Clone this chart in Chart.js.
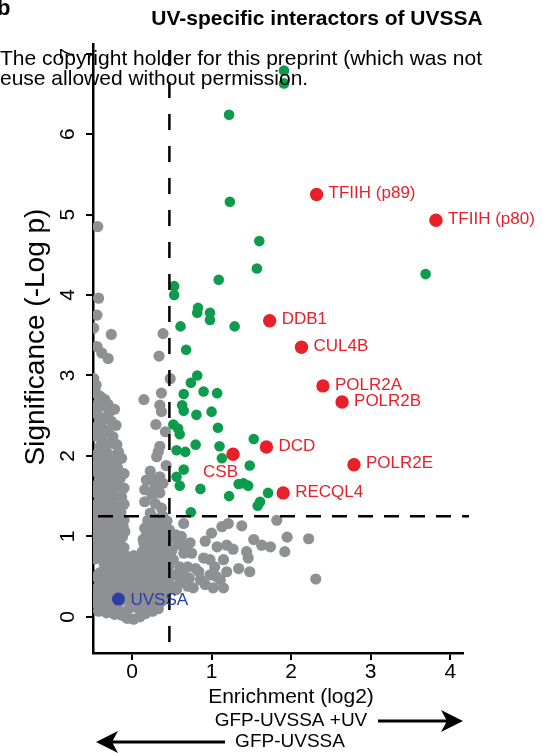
<!DOCTYPE html>
<html>
<head>
<meta charset="utf-8">
<script src="https://cdn.jsdelivr.net/npm/chart.js@4.4.1/dist/chart.umd.min.js"></script>
<style>
  html, body { margin: 0; padding: 0; background: #fff; }
  #wrap { position: relative; width: 556px; height: 753px; }
</style>
</head>
<body>
<div id="wrap"><canvas id="volcano" width="556" height="753"></canvas></div>
<script>
// axis ticks and cut-offs
const xTicks = [0, 1, 2, 3, 4];
const yTicks = [0, 1, 2, 3, 4, 5, 6, 7];
const enrichCut = 0.47;
const signifCut = 1.25;

// labelled UV-specific hits (red)
const hitNames = ['TFIIH (p89)', 'TFIIH (p80)', 'DDB1', 'CUL4B', 'POLR2A', 'POLR2B', 'DCD', 'CSB', 'POLR2E', 'RECQL4'];
const hitX = [2.32, 3.82, 1.73, 2.13, 2.40, 2.64, 1.69, 1.27, 2.79, 1.90];
const hitY = [5.25, 4.93, 3.68, 3.35, 2.87, 2.67, 2.11, 2.02, 1.89, 1.54];

// bait
const baitName = 'UVSSA';
const baitX = [-0.17];
const baitY = [0.22];

// other significant interactors (green)
const sigPts = [
  [1.91, 6.79], [1.91, 6.63], [1.22, 6.24], [1.23, 5.16], [1.60, 4.67], [1.57, 4.33], [1.09, 4.19],
  [3.69, 4.26], [0.53, 4.11], [0.53, 4.00], [0.83, 3.84], [0.82, 3.78], [0.98, 3.78], [0.98, 3.69],
  [1.29, 3.61], [0.61, 3.61], [0.68, 3.32], [0.82, 3.00], [0.74, 2.91], [0.65, 2.77], [0.90, 2.80],
  [1.07, 2.78], [0.63, 2.63], [0.65, 2.56], [0.81, 2.51], [1.00, 2.55], [0.52, 2.39], [0.58, 2.34],
  [0.60, 2.27], [1.08, 2.35], [1.53, 2.21], [0.56, 2.07], [0.67, 2.05], [0.80, 2.14], [1.10, 2.12],
  [1.13, 1.97], [0.65, 1.83], [0.56, 1.74], [0.60, 1.63], [0.86, 1.59], [1.48, 1.88], [1.34, 1.65],
  [1.40, 1.66], [1.46, 1.63], [1.22, 1.50], [1.71, 1.54], [1.61, 1.43], [1.58, 1.38], [0.74, 1.30]
];

// background proteins (grey)
const bgPts = [
  // upper scatter near the axis
  [-0.43, 4.85], [-0.42, 3.96], [-0.44, 3.75], [-0.48, 3.59], [-0.26, 3.51], [-0.44, 3.36], [-0.38, 3.28],
  [-0.30, 3.21], [-0.48, 2.96], [-0.45, 2.88], [-0.38, 2.72],
  // just left of the enrichment cut
  [0.39, 3.52], [0.34, 3.24], [0.48, 2.96], [0.37, 2.78], [0.15, 2.70], [0.35, 2.63], [0.37, 2.55],
  [0.30, 2.39], [0.35, 2.12], [0.33, 2.05], [0.31, 1.99], [0.42, 2.30], [0.43, 1.88],
  [0.23, 1.81], [0.18, 1.70], [0.25, 1.70], [0.35, 1.74], [0.39, 1.66], [0.29, 1.62], [0.16, 1.58],
  [0.25, 1.52], [0.35, 1.54], [0.16, 1.43], [0.29, 1.41], [0.37, 1.35], [0.23, 1.29], [0.39, 1.25],
  [0.25, 1.21], [0.33, 1.17],
  // column along the y axis
  [-0.40, 2.74], [-0.34, 2.70], [-0.28, 2.55], [-0.32, 2.49], [-0.40, 2.43], [-0.26, 2.43], [-0.34, 2.32],
  [-0.24, 2.24], [-0.28, 2.16], [-0.19, 2.14], [-0.40, 2.12], [-0.32, 2.05], [-0.17, 2.05], [-0.13, 1.97],
  [-0.36, 1.97], [-0.24, 1.91], [-0.34, 1.85], [-0.40, 1.74], [-0.24, 1.74], [-0.15, 1.72], [-0.32, 1.66],
  [-0.19, 1.62], [-0.36, 1.58], [-0.26, 1.52], [-0.13, 1.49], [-0.40, 1.45], [-0.30, 1.41], [-0.19, 1.37],
  [-0.34, 1.31], [-0.24, 1.29], [-0.40, 1.20], [-0.15, 1.20], [-0.28, 1.16], [-0.11, 1.12],
  [-0.46, 2.60], [-0.47, 2.35], [-0.46, 2.25], [-0.46, 1.90], [-0.46, 1.55], [-0.46, 1.30],
  [-0.45, 2.78], [-0.42, 2.66], [-0.36, 2.62], [-0.30, 2.64], [-0.22, 2.58], [-0.44, 2.52], [-0.36, 2.45],
  [-0.20, 2.38], [-0.30, 2.30], [-0.42, 2.30], [-0.38, 2.20], [-0.22, 2.15], [-0.44, 2.02], [-0.26, 2.00],
  [-0.36, 1.88], [-0.18, 1.85], [-0.28, 1.80], [-0.44, 1.80], [-0.10, 1.78], [-0.36, 1.72], [-0.28, 1.62],
  [-0.44, 1.64], [-0.10, 1.60], [-0.36, 1.50], [-0.20, 1.50], [-0.44, 1.40], [-0.10, 1.40], [-0.26, 1.40],
  [-0.36, 1.34], [-0.14, 1.30], [-0.44, 1.25], [-0.32, 1.24], [-0.22, 1.20], [-0.10, 1.20],
  // right-hand tail
  [0.65, 1.16], [0.92, 0.94], [1.00, 1.04], [1.13, 1.12], [1.21, 1.16], [1.38, 1.13], [1.82, 1.20],
  [1.95, 0.99], [2.22, 0.97], [1.92, 0.81], [2.31, 0.47], [1.53, 0.96], [1.63, 0.89], [1.74, 0.87],
  [1.44, 0.81], [1.46, 0.73], [1.34, 0.60], [1.48, 0.56], [1.19, 0.89], [1.27, 0.84], [1.07, 0.87],
  [0.73, 0.92], [0.75, 0.79], [0.65, 0.79], [0.90, 0.73], [0.98, 0.71], [1.04, 0.62], [1.15, 0.71],
  [1.19, 0.56], [1.11, 0.46], [1.02, 0.36], [1.15, 0.36], [0.86, 0.46], [0.92, 0.40], [0.77, 0.36],
  [0.52, 0.71], [0.60, 0.62], [0.56, 0.52], [0.65, 0.44], [0.56, 0.34], [0.42, 0.25],
  [0.70, 0.62], [0.80, 0.60], [0.72, 0.48], [0.84, 0.56], [0.64, 0.55], [0.98, 0.52], [1.06, 0.50],
  [0.60, 0.42], [0.70, 0.38], [0.48, 0.40], [0.50, 0.52], [0.46, 0.62],
  [0.50, 0.82], [0.58, 0.90], [0.55, 1.02], [0.47, 1.08], [0.62, 1.00], [0.68, 0.88],
  // dense core
  [-0.06, -0.02], [0.02, -0.03], [0.10, 0.00],
  [-0.42, 0.07], [-0.32, 0.05], [-0.22, 0.03], [-0.13, 0.02], [0.17, 0.04], [0.26, 0.07],
  [-0.39, 0.10], [-0.17, 0.10], [0.12, 0.10], [0.24, 0.10], [0.33, 0.10],
  [-0.44, 0.16], [-0.35, 0.14], [-0.26, 0.12], [-0.04, 0.10], [0.07, 0.11], [0.19, 0.14], [0.30, 0.15], [0.37, 0.19],
  [-0.40, 0.21], [-0.31, 0.21], [-0.22, 0.21], [-0.12, 0.21], [-0.03, 0.21], [0.07, 0.21], [0.17, 0.21], [0.27, 0.21], [0.40, 0.21],
  [-0.45, 0.27], [-0.36, 0.25], [-0.27, 0.28], [-0.18, 0.30], [-0.08, 0.26], [0.02, 0.24], [0.12, 0.27], [0.22, 0.25], [0.32, 0.29],
  [-0.46, 0.33], [-0.37, 0.33], [-0.26, 0.33], [-0.15, 0.33], [-0.05, 0.33], [0.05, 0.33], [0.15, 0.33], [0.25, 0.33], [0.35, 0.33], [0.45, 0.33],
  [-0.42, 0.38], [-0.31, 0.37], [-0.21, 0.40], [-0.10, 0.36], [0.00, 0.39], [0.10, 0.37], [0.20, 0.40], [0.30, 0.38], [0.40, 0.36],
  [-0.40, 0.44], [-0.30, 0.44], [-0.19, 0.44], [-0.09, 0.44], [0.02, 0.44], [0.12, 0.44], [0.22, 0.44], [0.32, 0.44], [0.42, 0.44],
  [-0.45, 0.50], [-0.35, 0.49], [-0.25, 0.51], [-0.14, 0.48], [-0.04, 0.52], [0.06, 0.49], [0.16, 0.51], [0.27, 0.48], [0.37, 0.52],
  [-0.40, 0.55], [-0.30, 0.55], [-0.19, 0.55], [-0.09, 0.55], [0.01, 0.55], [0.11, 0.55], [0.21, 0.55], [0.32, 0.55], [0.42, 0.55],
  [-0.30, 0.61], [-0.20, 0.59], [-0.10, 0.62], [0.00, 0.60], [0.10, 0.61], [0.21, 0.63], [0.32, 0.59], [0.41, 0.63],
  [-0.35, 0.66], [-0.25, 0.66], [-0.15, 0.66], [-0.05, 0.66], [0.05, 0.66], [0.15, 0.66], [0.26, 0.66], [0.36, 0.66], [0.46, 0.66],
  [-0.46, 0.72], [-0.24, 0.71], [-0.14, 0.73], [-0.04, 0.70], [0.07, 0.72], [0.18, 0.69], [0.28, 0.72], [0.38, 0.70],
  [-0.40, 0.76], [-0.28, 0.76], [-0.18, 0.76], [-0.08, 0.76], [0.02, 0.76], [0.20, 0.76], [0.30, 0.76], [0.40, 0.76],
  [-0.43, 0.82], [-0.32, 0.80], [-0.21, 0.83], [-0.12, 0.79], [0.13, 0.81], [0.24, 0.79], [0.34, 0.82], [0.44, 0.80],
  [-0.40, 0.86], [-0.30, 0.86], [-0.20, 0.86], [-0.10, 0.86], [0.20, 0.86], [0.32, 0.86], [0.45, 0.86],
  [-0.45, 0.92], [-0.35, 0.90], [-0.25, 0.93], [-0.15, 0.89], [0.15, 0.91], [0.27, 0.93], [0.40, 0.90],
  [-0.46, 0.96], [-0.37, 0.96], [-0.25, 0.96], [-0.16, 0.96], [0.14, 0.96], [0.22, 0.96], [0.35, 0.96], [0.46, 0.96],
  [-0.42, 1.02], [-0.30, 1.00], [-0.20, 1.03], [-0.12, 0.99], [0.18, 1.01], [0.30, 1.02], [0.42, 0.99],
  [-0.40, 1.06], [-0.30, 1.06], [-0.20, 1.06], [-0.09, 1.06], [0.21, 1.06], [0.32, 1.06], [0.44, 1.06],
  [-0.46, 1.10], [-0.36, 1.09], [-0.25, 1.11], [-0.14, 1.08], [0.16, 1.10], [0.26, 1.12], [0.37, 1.08],
  [-0.45, 1.16], [-0.35, 1.16], [-0.23, 1.16], [-0.15, 1.16], [0.20, 1.16], [0.28, 1.16], [0.40, 1.16],
  [-0.41, 1.22], [-0.30, 1.21], [-0.20, 1.23], [0.20, 1.20], [0.32, 1.22], [0.44, 1.19]
];

const FONT = '"Liberation Sans", Arial, Helvetica, sans-serif';
const RED = '#e8202a';
const BLUE = '#2a40a6';

function arrow(ctx, x0, x1, y, dir) {
  // shaft then barbed head, head at x1
  const back = x1 - dir * 22, notch = x1 - dir * 16;
  ctx.beginPath();
  ctx.moveTo(x0, y);
  ctx.lineTo(notch, y);
  ctx.lineWidth = 3;
  ctx.stroke();
  ctx.beginPath();
  ctx.moveTo(x1, y);
  ctx.lineTo(back, y - 11);
  ctx.lineTo(notch, y);
  ctx.lineTo(back, y + 11);
  ctx.closePath();
  ctx.fill();
}

const overlay = {
  id: 'overlay',
  afterDatasetsDraw(chart) {
    const { ctx, chartArea: a, scales: { x, y } } = chart;
    ctx.save();
    // significance cut-offs
    ctx.strokeStyle = '#000';
    ctx.lineWidth = 2.5;
    ctx.setLineDash([15, 11]);
    const hy = y.getPixelForValue(signifCut);
    ctx.beginPath();
    ctx.moveTo(a.left + 5, hy);
    ctx.lineTo(a.right + 6, hy);
    ctx.stroke();
    ctx.setLineDash([16, 16]);
    const vx = x.getPixelForValue(enrichCut);
    ctx.beginPath();
    ctx.moveTo(vx, a.top + 6);
    ctx.lineTo(vx, a.bottom);
    ctx.stroke();
    ctx.setLineDash([]);

    // hit labels
    ctx.font = '17px ' + FONT;
    ctx.textBaseline = 'middle';
    const meta = chart.getDatasetMeta(0);
    meta.data.forEach((pt, i) => {
      const name = hitNames[i];
      ctx.fillStyle = RED;
      if (name === 'CSB') {
        ctx.textAlign = 'right';
        ctx.fillText(name, pt.x + 5, pt.y + 18);
      } else {
        ctx.textAlign = 'left';
        ctx.fillText(name, pt.x + 12, pt.y - 1);
      }
    });
    const bp = chart.getDatasetMeta(1).data[0];
    ctx.fillStyle = BLUE;
    ctx.textAlign = 'left';
    ctx.fillText(baitName, bp.x + 12, bp.y + 1);

    // y tick labels, rotated like the axis title
    ctx.fillStyle = '#000';
    ctx.font = '21px ' + FONT;
    ctx.textAlign = 'center';
    y.ticks.forEach(t => {
      const py = y.getPixelForValue(t.value);
      ctx.save();
      ctx.translate(68, py);
      ctx.rotate(-Math.PI / 2);
      ctx.fillText(String(t.value), 0, 0);
      ctx.restore();
    });
    ctx.restore();
  },
  afterDraw(chart) {
    const { ctx } = chart;
    ctx.save();
    ctx.fillStyle = '#000';
    ctx.strokeStyle = '#000';
    ctx.textBaseline = 'middle';

    // axis titles
    ctx.font = '21px ' + FONT;
    ctx.textAlign = 'center';
    ctx.fillText('Enrichment (log2)', 291, 697);
    ctx.save();
    ctx.translate(36, 337);
    ctx.rotate(-Math.PI / 2);
    ctx.font = '28px ' + FONT;
    ctx.fillText('Significance (-Log p)', 0, 0);
    ctx.restore();

    // direction arrows
    ctx.font = '19px ' + FONT;
    ctx.fillText('GFP-UVSSA +UV', 291, 721);
    ctx.fillText('GFP-UVSSA', 290, 742);
    arrow(ctx, 378, 463, 721, 1);
    arrow(ctx, 225, 96, 742, -1);

    // panel letter and title
    ctx.textBaseline = 'alphabetic';
    ctx.textAlign = 'left';
    ctx.font = 'bold 22px ' + FONT;
    ctx.fillText('b', -3, 15);
    ctx.textAlign = 'center';
    ctx.font = 'bold 21px ' + FONT;
    ctx.fillText('UV-specific interactors of UVSSA', 317, 25);

    // preprint watermark on top of the plot
    ctx.textAlign = 'left';
    ctx.font = '21px ' + FONT;
    ctx.fillText('The copyright holder for this preprint (which was not', 0, 65);
    ctx.fillText('euse allowed without permission.', 0, 85);
    ctx.restore();
  }
};

const ctx = document.getElementById('volcano').getContext('2d');
const volcano = new Chart(ctx, {
  type: 'scatter',
  data: {
    datasets: [
      {
        label: 'UV-specific hits',
        data: hitX.map((v, i) => ({ x: v, y: hitY[i] })),
        backgroundColor: RED,
        pointRadius: 6.7,
        borderWidth: 0,
        clip: 0
      },
      {
        label: 'bait',
        data: baitX.map((v, i) => ({ x: v, y: baitY[i] })),
        backgroundColor: BLUE,
        pointRadius: 6.5,
        borderWidth: 0,
        clip: 0
      },
      {
        label: 'significant',
        data: sigPts.map(p => ({ x: p[0], y: p[1] })),
        backgroundColor: '#0d9c4b',
        pointRadius: 5.3,
        borderWidth: 0,
        clip: 0
      },
      {
        label: 'background',
        data: bgPts.map(p => ({ x: p[0], y: p[1] })),
        backgroundColor: '#8e9093',
        pointRadius: 5.6,
        borderWidth: 0,
        clip: 0
      }
    ]
  },
  options: {
    responsive: false,
    animation: false,
    layout: { padding: { top: 44, right: 93, left: 0, bottom: 0 } },
    plugins: { legend: { display: false }, tooltip: { enabled: false } },
    scales: {
      x: {
        type: 'linear',
        min: -0.49,
        max: 4.16,
        afterFit: s => { s.height = 100; },
        afterBuildTicks: s => { s.ticks = xTicks.map(v => ({ value: v })); },
        ticks: { color: '#000', font: { family: FONT, size: 21 }, padding: 0 },
        grid: { drawOnChartArea: false, tickLength: 7, color: '#000', lineWidth: 2 },
        border: { color: '#000', width: 2.5 }
      },
      y: {
        min: -0.45,
        max: 7.12,
        afterFit: s => { s.width = 93; },
        afterBuildTicks: s => { s.ticks = yTicks.map(v => ({ value: v })); },
        ticks: { display: false },
        grid: { drawOnChartArea: false, tickLength: 7, color: '#000', lineWidth: 2 },
        border: { color: '#000', width: 2.5 }
      }
    }
  },
  plugins: [overlay]
});
</script>
</body>
</html>
